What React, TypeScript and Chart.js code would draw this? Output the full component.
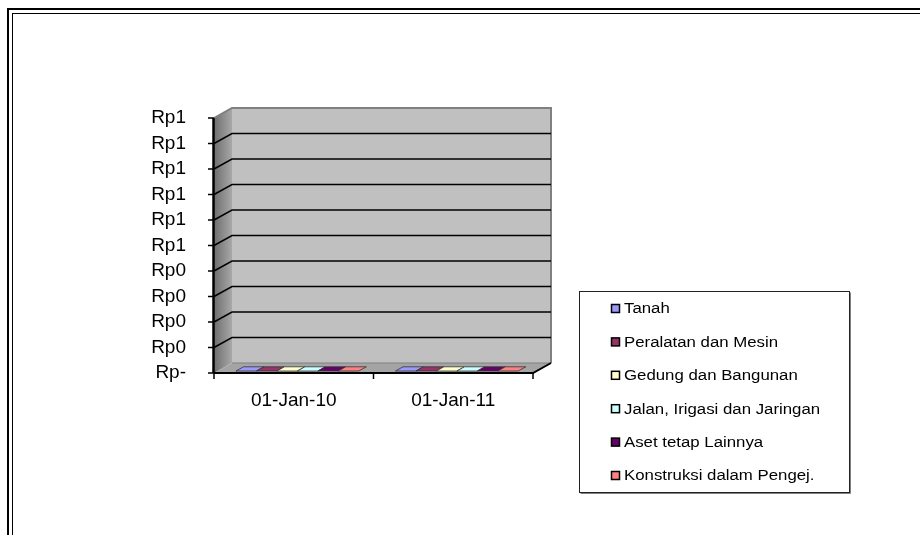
import React, { useEffect, useRef } from "react";
import { Chart, registerables } from "chart.js";
Chart.register(...registerables);

const categories = ["01-Jan-10", "01-Jan-11"];
const seriesNames = [
  "Tanah",
  "Peralatan dan Mesin",
  "Gedung dan Bangunan",
  "Jalan, Irigasi dan Jaringan",
  "Aset tetap Lainnya",
  "Konstruksi dalam Pengej.",
];
const tanah = [0, 0];
const peralatan = [0, 0];
const gedung = [0, 0];
const jalan = [0, 0];
const asetLain = [0, 0];
const konstruksi = [0, 0];
const seriesColors = ["#9999FF", "#993366", "#FFFFCC", "#CCFFFF", "#660066", "#FF8080"];
const yTickLabels = ["Rp-", "Rp0", "Rp0", "Rp0", "Rp0", "Rp1", "Rp1", "Rp1", "Rp1", "Rp1", "Rp1"];

const DX = 18;
const DY = -10;
const FONT = "'Liberation Sans', Arial, sans-serif";

const frame3d = {
  id: "frame3d",
  beforeDraw(chart: any) {
    const ctx = chart.ctx;
    const W = chart.width;
    const H = chart.height;
    ctx.save();
    ctx.fillStyle = "#fff";
    ctx.fillRect(0, 0, W, H);
    ctx.fillStyle = "#000";
    ctx.fillRect(7, 8, 2, H - 8);
    ctx.fillRect(7, 8, W - 7, 2);
    ctx.fillRect(12, 13, 1, H - 13);
    ctx.fillRect(12, 13, W - 12, 1);
    ctx.restore();
  },
  beforeDatasetsDraw(chart: any) {
    const ctx = chart.ctx;
    const { left: L, right: R, top: T, bottom: B } = chart.chartArea;
    const ys = chart.scales.y;
    const xs = chart.scales.x;
    ctx.save();
    // back wall
    ctx.fillStyle = "#C0C0C0";
    ctx.fillRect(L + DX, T + DY, R - L, B - T);
    // side wall
    const g = ctx.createLinearGradient(L, 0, L + DX, 0);
    g.addColorStop(0, "#6e6e6e");
    g.addColorStop(1, "#a8a8a8");
    ctx.fillStyle = g;
    ctx.beginPath();
    ctx.moveTo(L, T);
    ctx.lineTo(L + DX, T + DY);
    ctx.lineTo(L + DX, B + DY);
    ctx.lineTo(L, B);
    ctx.closePath();
    ctx.fill();
    // floor
    ctx.fillStyle = "#a4a4a4";
    ctx.beginPath();
    ctx.moveTo(L, B);
    ctx.lineTo(L + DX, B + DY);
    ctx.lineTo(R + DX, B + DY);
    ctx.lineTo(R, B);
    ctx.closePath();
    ctx.fill();
    // wall borders (gray)
    ctx.strokeStyle = "#808080";
    ctx.lineWidth = 2;
    ctx.beginPath();
    ctx.moveTo(L, T);
    ctx.lineTo(L + DX, T + DY);
    ctx.lineTo(R + DX, T + DY);
    ctx.lineTo(R + DX, B + DY);
    ctx.stroke();
    ctx.lineWidth = 1;
    ctx.beginPath();
    ctx.moveTo(L + DX, B + DY);
    ctx.lineTo(R + DX, B + DY);
    ctx.stroke();
    // gridlines
    ctx.strokeStyle = "#000";
    ctx.lineWidth = 1.5;
    ys.ticks.forEach((t: any, i: number) => {
      if (i === 0 || i === ys.ticks.length - 1) return;
      const y = ys.getPixelForValue(t.value);
      ctx.beginPath();
      ctx.moveTo(L, y);
      ctx.lineTo(L + DX, y + DY);
      ctx.lineTo(R + DX, y + DY);
      ctx.stroke();
    });
    // front y axis
    ctx.lineWidth = 2.5;
    ctx.beginPath();
    ctx.moveTo(L - 0.5, T);
    ctx.lineTo(L - 0.5, B);
    ctx.stroke();
    ctx.lineWidth = 1.5;
    ys.ticks.forEach((t: any) => {
      const y = ys.getPixelForValue(t.value);
      ctx.beginPath();
      ctx.moveTo(L - 6, y);
      ctx.lineTo(L, y);
      ctx.stroke();
    });
    // x axis front edge
    ctx.lineWidth = 2;
    ctx.beginPath();
    ctx.moveTo(L, B);
    ctx.lineTo(R, B);
    ctx.lineTo(R + DX, B + DY);
    ctx.stroke();
    ctx.lineWidth = 1.5;
    const n = xs.ticks.length;
    for (let i = 0; i <= n; i++) {
      const x = L + ((R - L) * i) / n;
      ctx.beginPath();
      ctx.moveTo(x, B);
      ctx.lineTo(x, B + 6);
      ctx.stroke();
    }
    ctx.restore();
  },
  afterDatasetsDraw(chart: any) {
    const ctx = chart.ctx;
    const f1 = 0.2;
    const f2 = 0.62;
    ctx.save();
    chart.data.datasets.forEach((ds: any, di: number) => {
      const meta = chart.getDatasetMeta(di);
      meta.data.forEach((el: any) => {
        const w = el.width;
        const y = el.y;
        ctx.beginPath();
        ctx.moveTo(el.x - w / 2 + f1 * DX, y + f1 * DY);
        ctx.lineTo(el.x + w / 2 + f1 * DX, y + f1 * DY);
        ctx.lineTo(el.x + w / 2 + f2 * DX, y + f2 * DY);
        ctx.lineTo(el.x - w / 2 + f2 * DX, y + f2 * DY);
        ctx.closePath();
        ctx.fillStyle = ds.backgroundColor;
        ctx.fill();
        ctx.strokeStyle = "#333";
        ctx.lineWidth = 0.8;
        ctx.stroke();
      });
    });
    ctx.restore();
  },
  afterDraw(chart: any) {
    const ctx = chart.ctx;
    ctx.save();
    const bx = 579.5, by = 291.5, bw = 270, bh = 201;
    ctx.fillStyle = "#fff";
    ctx.fillRect(bx, by, bw, bh);
    ctx.strokeStyle = "#808080";
    ctx.lineWidth = 1;
    ctx.beginPath();
    ctx.moveTo(bx + bw + 1, by + 1);
    ctx.lineTo(bx + bw + 1, by + bh + 1);
    ctx.lineTo(bx + 1, by + bh + 1);
    ctx.stroke();
    ctx.strokeStyle = "#222";
    ctx.strokeRect(bx, by, bw, bh);
    chart.data.datasets.forEach((ds: any, i: number) => {
      const cy = 309 + i * 33.4;
      ctx.fillStyle = ds.backgroundColor;
      ctx.fillRect(611.5, cy - 4.5, 8, 8);
      ctx.strokeStyle = "#000";
      ctx.lineWidth = 1.5;
      ctx.strokeRect(611.5, cy - 4.5, 8, 8);
      ctx.save();
      ctx.translate(624, cy + 0.5);
      ctx.scale(1.2, 1);
      ctx.font = "14px " + FONT;
      ctx.fillStyle = "#000";
      ctx.textBaseline = "middle";
      ctx.fillText(ds.label, 0, 0);
      ctx.restore();
    });
    ctx.restore();
  },
};

export default function App() {
  const ref = useRef<HTMLCanvasElement | null>(null);
  useEffect(() => {
    if (!ref.current) return;
    const seriesData = [tanah, peralatan, gedung, jalan, asetLain, konstruksi];
    const chart = new Chart(ref.current, {
      type: "bar",
      data: {
        labels: categories,
        datasets: seriesNames.map((name, i) => ({
          label: name,
          data: seriesData[i],
          backgroundColor: seriesColors[i],
          borderWidth: 0,
          categoryPercentage: 0.77,
          barPercentage: 1,
        })),
      },
      options: {
        responsive: false,
        maintainAspectRatio: false,
        animation: false,
        devicePixelRatio: 1,
        layout: { padding: { left: 0, right: 387, top: 118, bottom: 122 } },
        plugins: { legend: { display: false }, tooltip: { enabled: false } },
        scales: {
          x: {
            grid: { display: false, drawTicks: false },
            border: { display: false },
            ticks: { font: { family: FONT, size: 19 }, color: "#000", padding: 16, maxRotation: 0 },
            afterFit: (s: any) => {
              s.height = 40;
            },
          },
          y: {
            min: 0,
            max: 1,
            grid: { display: false, drawTicks: false },
            border: { display: false },
            ticks: {
              stepSize: 0.1,
              autoSkip: false,
              font: { family: FONT, size: 19 },
              color: "#000",
              padding: 28,
              callback: (_v: any, idx: number) => yTickLabels[idx],
            },
            afterFit: (s: any) => {
              s.width = 214;
            },
          },
        },
      },
      plugins: [frame3d],
    });
    return () => chart.destroy();
  }, []);
  return (
    <div style={{ position: "absolute", left: 0, top: 0, width: 920, height: 535 }}>
      <canvas ref={ref} width={920} height={535} />
    </div>
  );
}
